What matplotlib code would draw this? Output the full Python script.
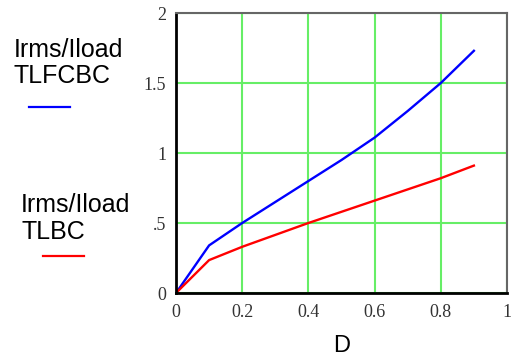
import matplotlib
matplotlib.use("Agg")
import matplotlib.pyplot as plt
import numpy as np

D = [0.0, 0.1, 0.2, 0.3, 0.4, 0.5, 0.6, 0.7, 0.8, 0.9]
tlfcbc = [0.0, 0.34, 0.50, 0.65, 0.80, 0.95, 1.11, 1.30, 1.50, 1.73]
tlbc = [0.0, 0.235, 0.33, 0.415, 0.50, 0.58, 0.66, 0.74, 0.82, 0.91]

xticks = [0, 0.2, 0.4, 0.6, 0.8, 1]
xticklabels = ['0', '0.2', '0.4', '0.6', '0.8', '1']
yticks = [0, 0.5, 1, 1.5, 2]
yticklabels = ['0', '.5', '1', '1.5', '2']

fig = plt.figure(figsize=(5.17, 3.56), dpi=100)
ax = fig.add_axes([176/517, 1 - 293/356, 331/517, 280/356])

ax.plot(D, tlfcbc, color='#0000ff', lw=1.7)
ax.plot(D, tlbc, color='#ff0000', lw=1.7)

ax.set_xlim(0, 1)
ax.set_ylim(0, 2)
ax.set_xticks(xticks)
ax.set_xticklabels(xticklabels, family='Liberation Serif', fontsize=13, color='#333333')
ax.set_yticks(yticks)
ax.set_yticklabels(yticklabels, family='Liberation Serif', fontsize=13, color='#333333')
ax.tick_params(length=0)
ax.tick_params(axis='x', pad=8)
ax.tick_params(axis='y', pad=7)
ax.grid(True, color='#66ee66', lw=1.5)
ax.set_axisbelow(True)

for s in ['left', 'bottom']:
    ax.spines[s].set_linewidth(2)
    ax.spines[s].set_color('black')
for s in ['top', 'right']:
    ax.spines[s].set_linewidth(1.5)
    ax.spines[s].set_color('#666666')

ax.set_xlabel('D', family='Liberation Sans', fontsize=17, labelpad=10)

# legend text on the left
fig.text(14/517, 1 - 50/356, 'Irms/Iload', family='Liberation Sans', fontsize=18, va='center')
fig.text(14/517, 1 - 76/356, 'TLFCBC', family='Liberation Sans', fontsize=18, va='center')
fig.add_artist(plt.Line2D([29/517, 70/517], [1 - 107/356, 1 - 107/356], color='#0000ff', lw=1.6))
fig.text(21/517, 1 - 205/356, 'Irms/Iload', family='Liberation Sans', fontsize=18, va='center')
fig.text(21/517, 1 - 232/356, 'TLBC', family='Liberation Sans', fontsize=18, va='center')
fig.add_artist(plt.Line2D([43/517, 84/517], [1 - 256/356, 1 - 256/356], color='#ff0000', lw=1.6))

fig.savefig('out.png', dpi=100)
